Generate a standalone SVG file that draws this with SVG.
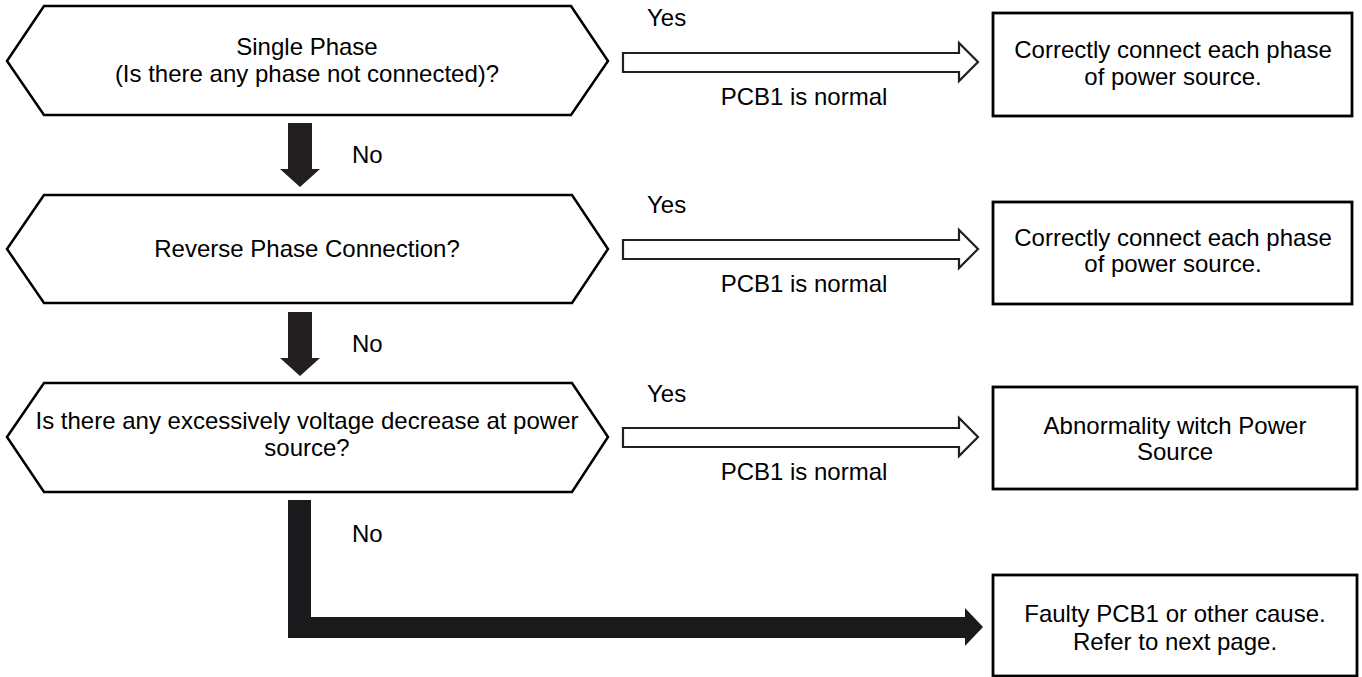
<svg xmlns="http://www.w3.org/2000/svg" width="1362" height="677" viewBox="0 0 1362 677">
<style>
.hex{fill:#fff;stroke:#000;stroke-width:2.5;stroke-linejoin:miter}
.box{fill:#fff;stroke:#000;stroke-width:2.8}
.t{font-family:"Liberation Sans",Arial,sans-serif;font-size:24px;fill:#000;text-anchor:middle}
.l{font-family:"Liberation Sans",Arial,sans-serif;font-size:24px;fill:#000}
.hollow{fill:#fff;stroke:#231f20;stroke-width:2.2;stroke-linejoin:miter}
.solid{fill:#231f20;stroke:none}
</style>
<rect width="1362" height="677" fill="#fff"/>
<g id="q1">
<polygon class="hex" points="7,61 44,6 571,6 608,61 571,115 44,115"/>
<text class="t" x="307" y="55">Single Phase</text>
<text class="t" x="307" y="82">(Is there any phase not connected)?</text>
</g>
<g id="q2">
<polygon class="hex" points="7,249 44,195 572,195 608,249 572,303 44,303"/>
<text class="t" x="307" y="257">Reverse Phase Connection?</text>
</g>
<g id="q3">
<polygon class="hex" points="7,437 44,383 572,383 608,437 572,492 44,492"/>
<text class="t" x="307" y="429">Is there any excessively voltage decrease at power</text>
<text class="t" x="307" y="456">source?</text>
</g>
<g id="r1">
<rect class="box" x="993" y="13" width="359" height="103"/>
<text class="t" x="1173" y="58">Correctly connect each phase</text>
<text class="t" x="1173" y="85">of power source.</text>
</g>
<g id="r2">
<rect class="box" x="993" y="202" width="359" height="102"/>
<text class="t" x="1173" y="246">Correctly connect each phase</text>
<text class="t" x="1173" y="272">of power source.</text>
</g>
<g id="r3">
<rect class="box" x="993" y="387" width="364" height="102"/>
<text class="t" x="1175" y="434">Abnormality witch Power</text>
<text class="t" x="1175" y="460">Source</text>
</g>
<g id="r4">
<rect class="box" x="993" y="575" width="364" height="101"/>
<text class="t" x="1175" y="622">Faulty PCB1 or other cause.</text>
<text class="t" x="1175" y="650">Refer to next page.</text>
</g>
<g id="connectors">
<polygon class="hollow" points="623,53 959,53 959,43 978,62 959,81 959,72 623,72"/>
<polygon class="hollow" points="623,240 959,240 959,230 978,249 959,268 959,259 623,259"/>
<polygon class="hollow" points="623,428 959,428 959,418 978,437 959,456 959,447 623,447"/>
<polygon class="solid" points="288,123 312,123 312,169 320,169 300,187 280,169 288,169"/>
<polygon class="solid" points="288,312 312,312 312,358 320,358 300,376 280,358 288,358"/>
<polygon fill="#1a1a1c" points="288,500 311,500 311,617 965,617 965,608 983,627 965,646 965,638 288,638"/>
<text class="l" x="647" y="26">Yes</text>
<text class="l" x="647" y="213">Yes</text>
<text class="l" x="647" y="402">Yes</text>
<text class="t" x="804" y="105">PCB1 is normal</text>
<text class="t" x="804" y="292">PCB1 is normal</text>
<text class="t" x="804" y="480">PCB1 is normal</text>
<text class="l" x="352" y="163">No</text>
<text class="l" x="352" y="352">No</text>
<text class="l" x="352" y="542">No</text>
</g>
</svg>
